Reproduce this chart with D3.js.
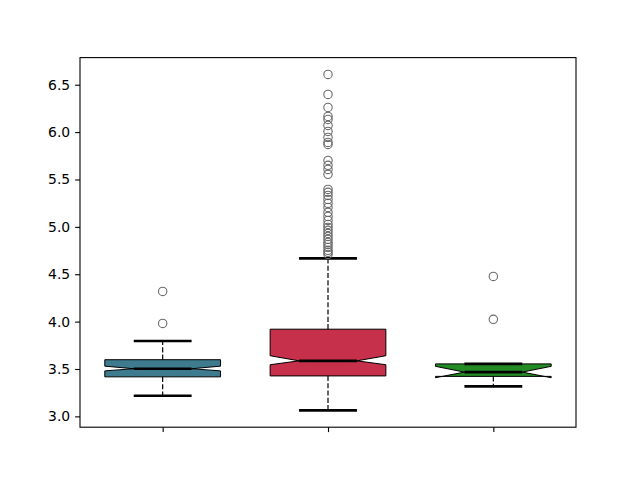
<!DOCTYPE html>
<html>
<head>
<meta charset="utf-8">
<script src="https://cdn.jsdelivr.net/npm/d3@7"></script>
<style>
  body { margin: 0; background: #fff; }
  svg { display: block; }
</style>
</head>
<body>
<div id="chart"></div>
<script>
const width = 640;
const height = 480;

// Box statistics (positions 1, 2, 3)
const positions = [1, 2, 3];
const q1 = [3.417, 3.427, 3.422];
const medians = [3.503, 3.586, 3.467];
const q3 = [3.598, 3.920, 3.554];
const notchLo = [3.480, 3.545, 3.408];
const notchHi = [3.530, 3.640, 3.528];
const whiskLo = [3.218, 3.063, 3.317];
const whiskHi = [3.795, 4.667, 3.554];
const fliers = [
  [4.319, 3.981],
  [6.609, 6.398, 6.260, 6.166, 6.134, 6.071, 6.007, 5.944, 5.891, 5.870,
   5.701, 5.649, 5.606, 5.554, 5.395, 5.364, 5.332, 5.290, 5.248, 5.205,
   5.153, 5.110, 5.068, 5.026, 4.994, 4.963, 4.931, 4.899, 4.868, 4.836,
   4.815, 4.783, 4.752, 4.731, 4.709],
  [4.477, 4.024]
];
const boxColors = ["#3e7b8f", "#c6304a", "#248a24"];
const yTicks = [3.0, 3.5, 4.0, 4.5, 5.0, 5.5, 6.0, 6.5];

const margin = { left: 80, right: 64, top: 57.6, bottom: 52.8 };
const boxWidth = 0.7;

const svg = d3.select("#chart")
  .append("svg")
  .attr("width", width)
  .attr("height", height);

// y range: data extent plus 5% padding, like matplotlib
const lo = d3.min(whiskLo);
const hi = d3.max(fliers.flat().concat(whiskHi));
const pad = (hi - lo) * 0.05;

const x = d3.scaleLinear()
  .domain([0.5, 3.5])
  .range([margin.left, width - margin.right]);

const y = d3.scaleLinear()
  .domain([lo - pad, hi + pad])
  .range([height - margin.bottom, margin.top]);

const boxes = positions.map((p, i) => ({
  pos: p, q1: q1[i], med: medians[i], q3: q3[i],
  nlo: notchLo[i], nhi: notchHi[i],
  wlo: whiskLo[i], whi: whiskHi[i],
  fliers: fliers[i], color: boxColors[i]
}));

// notched box outline, same point order as matplotlib
function notchPath(d) {
  const L = x(d.pos - boxWidth / 2), R = x(d.pos + boxWidth / 2);
  const cL = x(d.pos - boxWidth / 4), cR = x(d.pos + boxWidth / 4);
  const pts = [
    [L, y(d.q1)], [R, y(d.q1)], [R, y(d.nlo)], [cR, y(d.med)],
    [R, y(d.nhi)], [R, y(d.q3)], [L, y(d.q3)], [L, y(d.nhi)],
    [cL, y(d.med)], [L, y(d.nlo)]
  ];
  return "M" + pts.map(p => p.join(",")).join("L") + "Z";
}

const g = svg.selectAll(".box")
  .data(boxes)
  .enter()
  .append("g")
  .attr("class", "box");

g.append("path")
  .attr("d", notchPath)
  .attr("fill", d => d.color)
  .attr("stroke", "#000")
  .attr("stroke-width", 1)
  .attr("stroke-linejoin", "miter");

// dashed whiskers
g.append("line")
  .attr("x1", d => x(d.pos)).attr("x2", d => x(d.pos))
  .attr("y1", d => y(d.q1)).attr("y2", d => y(d.wlo))
  .attr("stroke", "#000").attr("stroke-width", 1.2)
  .attr("stroke-dasharray", "5.1,2.2");

g.append("line")
  .attr("x1", d => x(d.pos)).attr("x2", d => x(d.pos))
  .attr("y1", d => y(d.q3)).attr("y2", d => y(d.whi))
  .attr("stroke", "#000").attr("stroke-width", 1.2)
  .attr("stroke-dasharray", "5.1,2.2");

// caps
["wlo", "whi"].forEach(k => {
  g.append("line")
    .attr("x1", d => x(d.pos - boxWidth / 4))
    .attr("x2", d => x(d.pos + boxWidth / 4))
    .attr("y1", d => y(d[k])).attr("y2", d => y(d[k]))
    .attr("stroke", "#000").attr("stroke-width", 2.6);
});

// median
g.append("line")
  .attr("x1", d => x(d.pos - boxWidth / 4))
  .attr("x2", d => x(d.pos + boxWidth / 4))
  .attr("y1", d => y(d.med)).attr("y2", d => y(d.med))
  .attr("stroke", "#000").attr("stroke-width", 2.6);

// outliers
g.each(function(d) {
  d3.select(this).selectAll("circle")
    .data(d.fliers)
    .enter()
    .append("circle")
    .attr("cx", x(d.pos))
    .attr("cy", v => y(v))
    .attr("r", 4.2)
    .attr("fill", "none")
    .attr("stroke", "#6a6a6a")
    .attr("stroke-width", 1.1);
});

// axes
const yAxis = d3.axisLeft(y)
  .tickValues(yTicks)
  .tickFormat(d3.format(".1f"))
  .tickSize(4.9)
  .tickPadding(4.9);

const xAxis = d3.axisBottom(x)
  .tickValues(positions)
  .tickFormat("")
  .tickSize(4.9);

svg.append("g")
  .attr("transform", `translate(${margin.left},0)`)
  .call(yAxis)
  .call(a => a.select(".domain").remove())
  .call(a => a.selectAll("line").attr("stroke-width", 1.1))
  .call(a => a.selectAll("text")
    .attr("font-family", "'DejaVu Sans', sans-serif")
    .attr("font-size", "13.9px")
    .attr("fill", "#000"));

svg.append("g")
  .attr("transform", `translate(0,${height - margin.bottom})`)
  .call(xAxis)
  .call(a => a.select(".domain").remove())
  .call(a => a.selectAll("line").attr("stroke-width", 1.1));

// frame
svg.append("rect")
  .attr("x", margin.left)
  .attr("y", margin.top)
  .attr("width", width - margin.left - margin.right)
  .attr("height", height - margin.top - margin.bottom)
  .attr("fill", "none")
  .attr("stroke", "#000")
  .attr("stroke-width", 1.1);
</script>
</body>
</html>
